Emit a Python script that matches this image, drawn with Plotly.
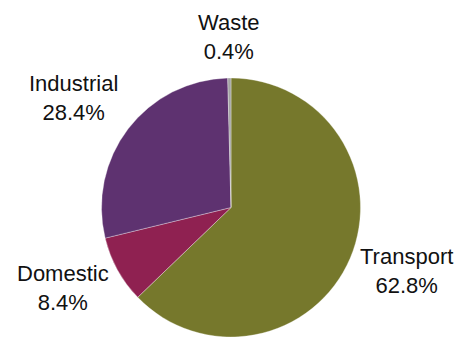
import plotly.graph_objects as go

# Share of emissions by sector (%)
sectors = ["Transport", "Domestic", "Industrial", "Waste"]
shares = [62.8, 8.4, 28.4, 0.4]
colors = ["#76782C", "#8F2151", "#5E3270", "#A3A3A3"]

W, H = 457, 337

# label centres in pixels (x, y from top)
label_px = {
    "Transport": (406, 271),
    "Domestic": (63, 288),
    "Industrial": (73, 98),
    "Waste": (229, 37),
}

fig = go.Figure(
    go.Pie(
        labels=sectors,
        values=shares,
        sort=False,
        direction="clockwise",
        rotation=0,
        textinfo="none",
        hoverinfo="label+percent",
        marker=dict(colors=colors, line=dict(color="rgba(255,255,255,0.55)", width=0.6)),
        domain=dict(x=[101 / W, 361 / W], y=[0, 1 - 78 / H]),
        showlegend=False,
    )
)

for name, val in zip(sectors, shares):
    px, py = label_px[name]
    fig.add_annotation(
        x=px / W,
        y=1 - py / H,
        xref="paper",
        yref="paper",
        xanchor="center",
        yanchor="middle",
        text=f"{name}<br>{val:.1f}%",
        showarrow=False,
        align="center",
        font=dict(family="Liberation Sans, Arial, sans-serif", size=22, color="#111111"),
    )

fig.update_layout(
    width=W,
    height=H,
    autosize=False,
    margin=dict(l=0, r=0, t=0, b=0),
    paper_bgcolor="white",
    plot_bgcolor="white",
)

fig.write_html("out.html")
